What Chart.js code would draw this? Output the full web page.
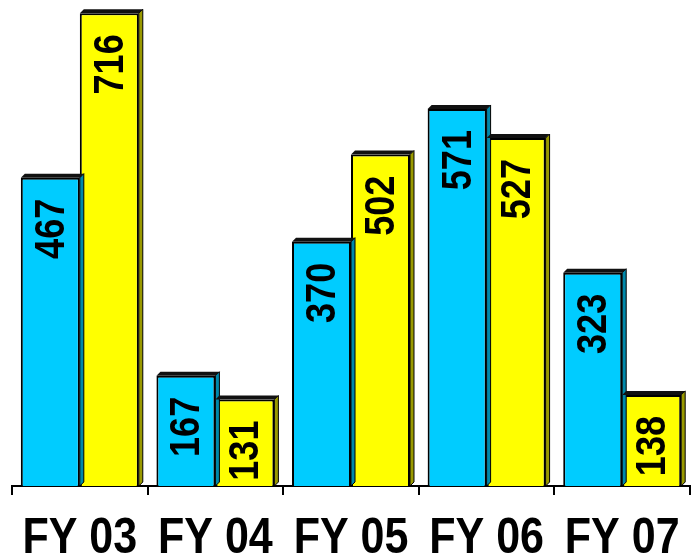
<!DOCTYPE html>
<html>
<head>
<meta charset="utf-8">
<script src="https://cdn.jsdelivr.net/npm/chart.js@4"></script>
<style>
  html, body { margin: 0; padding: 0; background: #fff; }
  #wrap { width: 695px; height: 558px; position: relative; }
</style>
</head>
<body>
<div id="wrap"><canvas id="chart"></canvas></div>
<script>
const categories = ['FY 03', 'FY 04', 'FY 05', 'FY 06', 'FY 07'];
const seriesA = [467, 167, 370, 571, 323];
const seriesB = [716, 131, 502, 527, 138];

// thin 3d faces, rotated value labels and the narrow category labels
const barExtras = {
    id: 'barExtras',
    afterDatasetsDraw(chart) {
        const ctx = chart.ctx;
        const d = 4;
        chart.data.datasets.forEach((ds, i) => {
            const meta = chart.getDatasetMeta(i);
            meta.data.forEach((bar, j) => {
                const half = bar.width / 2;
                const l = bar.x - half, r = bar.x + half;
                const t = bar.y, b = bar.base;
                ctx.save();
                // side face
                ctx.fillStyle = ds.sideColor;
                ctx.beginPath();
                ctx.moveTo(r, t);
                ctx.lineTo(r + d, t - d);
                ctx.lineTo(r + d, b - d);
                ctx.lineTo(r, b);
                ctx.closePath();
                ctx.fill();
                ctx.strokeStyle = '#000';
                ctx.lineWidth = 1;
                ctx.stroke();
                // top face
                ctx.fillStyle = '#111';
                ctx.beginPath();
                ctx.moveTo(l, t);
                ctx.lineTo(l + d, t - d);
                ctx.lineTo(r + d, t - d);
                ctx.lineTo(r, t);
                ctx.closePath();
                ctx.fill();
                // value label, reads bottom to top
                ctx.translate(bar.x, t + 21);
                ctx.rotate(-Math.PI / 2);
                ctx.scale(0.86, 1);
                ctx.fillStyle = '#000';
                ctx.font = 'bold 42px "Liberation Sans", Arial, sans-serif';
                ctx.textAlign = 'right';
                ctx.textBaseline = 'middle';
                ctx.fillText(String(ds.data[j]), 0, 2);
                ctx.restore();
            });
        });

        // category labels
        const x = chart.scales.x;
        categories.forEach((c, k) => {
            ctx.save();
            ctx.translate(x.getPixelForValue(k), 553);
            ctx.scale(0.86, 1);
            ctx.fillStyle = '#000';
            ctx.font = 'bold 50px "Liberation Sans", Arial, sans-serif';
            ctx.textAlign = 'center';
            ctx.textBaseline = 'alphabetic';
            ctx.fillText(c, 0, 0);
            ctx.restore();
        });
    }
};

new Chart(document.getElementById('chart'), {
    type: 'bar',
    data: {
        labels: categories,
        datasets: [
            {
                data: seriesA,
                backgroundColor: '#00CCFF',
                sideColor: '#0088aa',
                borderColor: '#000',
                borderWidth: 2,
                borderSkipped: 'bottom'
            },
            {
                data: seriesB,
                backgroundColor: '#FFFF00',
                sideColor: '#999900',
                borderColor: '#000',
                borderWidth: 2,
                borderSkipped: 'bottom'
            }
        ]
    },
    options: {
        responsive: true,
        maintainAspectRatio: false,
        animation: false,
        layout: { padding: { left: 12, right: 5, top: 4, bottom: 0 } },
        categoryPercentage: 0.87,
        barPercentage: 1,
        scales: {
            x: {
                offset: true,
                afterFit: function(scale) { scale.height = 72; },
                border: { display: true, color: '#000', width: 2 },
                grid: {
                    offset: true,
                    drawOnChartArea: false,
                    drawTicks: true,
                    tickLength: 9,
                    color: '#000',
                    lineWidth: 2
                },
                ticks: { display: false }
            },
            y: {
                display: false,
                min: 0,
                max: 730
            }
        },
        plugins: {
            legend: { display: false },
            tooltip: { enabled: false }
        }
    },
    plugins: [barExtras]
});
</script>
</body>
</html>
